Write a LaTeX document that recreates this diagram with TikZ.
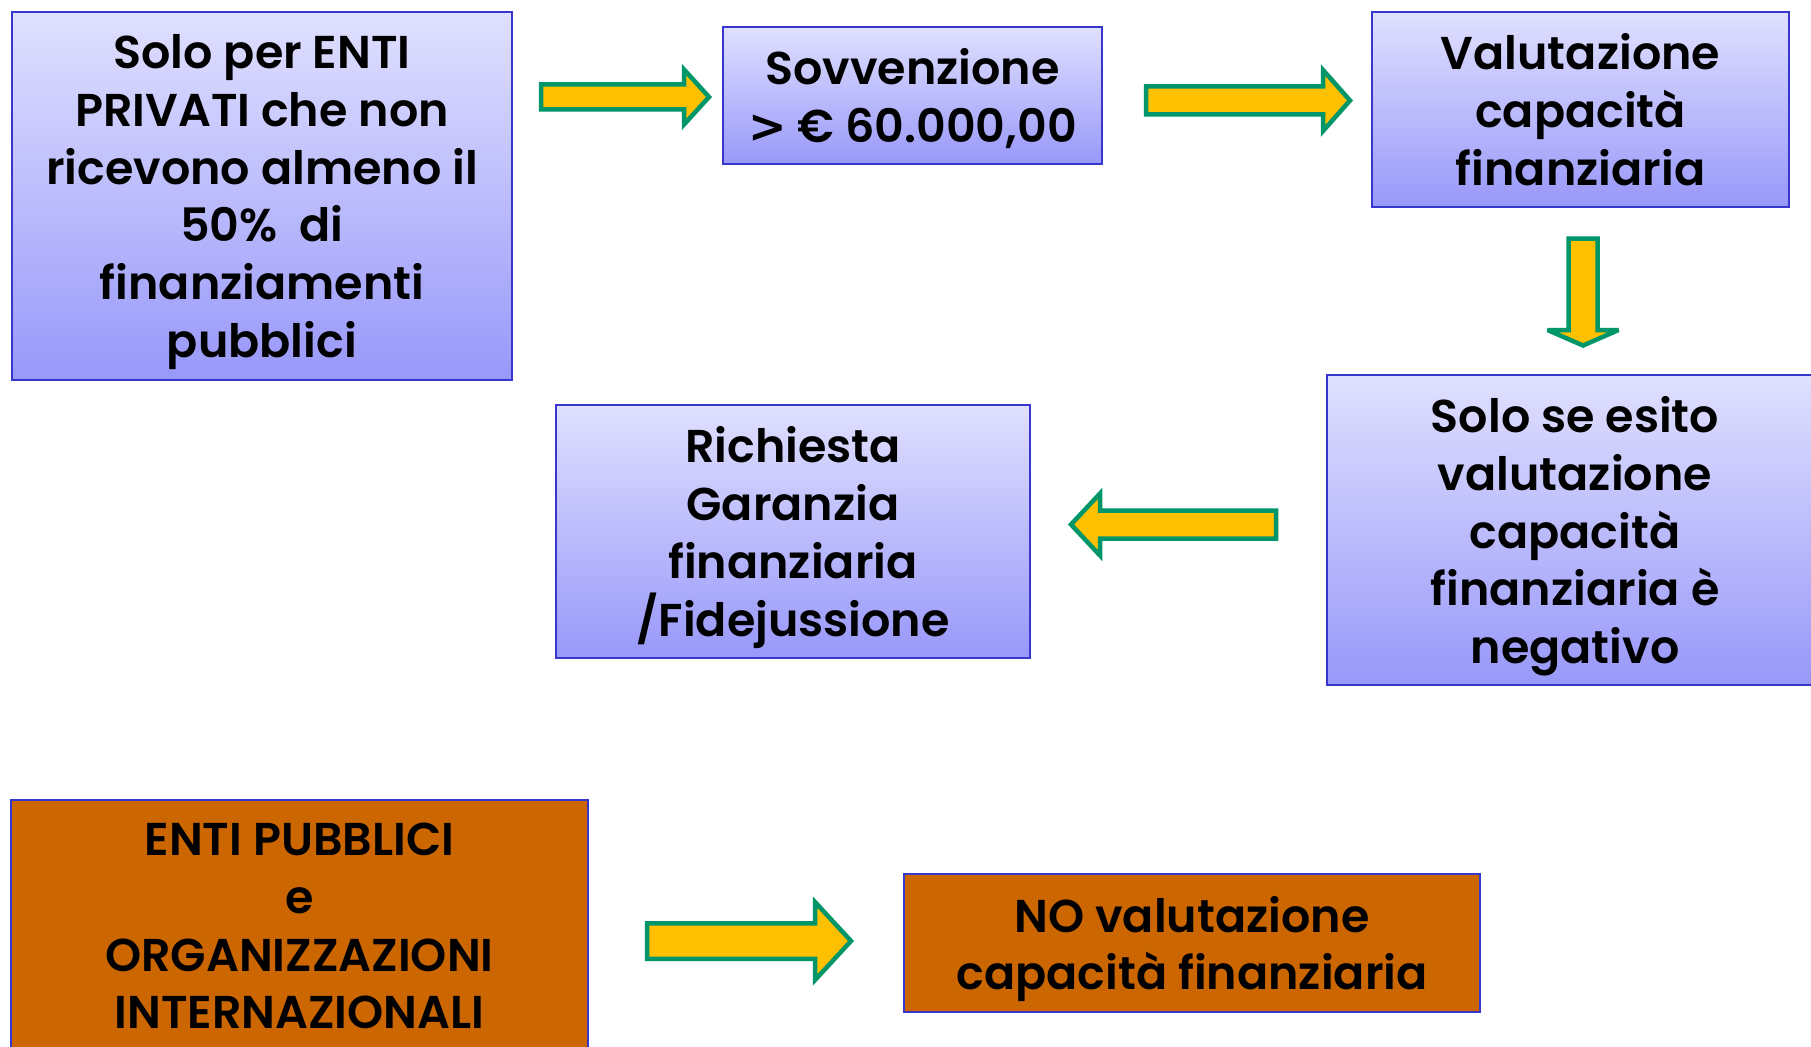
\documentclass[tikz,border=0pt]{standalone}
\usepackage{fontspec}
\setmainfont{Poppins}[BoldFont={Poppins SemiBold}]
\newfontfamily\signfont{DejaVu Sans}

\definecolor{boxtop}{RGB}{224,224,255}
\definecolor{boxbottom}{RGB}{152,152,250}
\definecolor{boxline}{RGB}{55,55,205}
\definecolor{orangefill}{RGB}{204,102,0}
\definecolor{arrowfill}{RGB}{255,192,0}
\definecolor{arrowline}{RGB}{0,150,105}

\tikzset{
    box/.style={draw=boxline, line width=1.5pt, align=center, inner sep=0pt,
        text depth=0pt, font=\fontsize{46}{57.8}\selectfont\bfseries},
    bluebox/.style={box, top color=boxtop, bottom color=boxbottom},
    orangebox/.style={box, fill=orangefill},
    arrowbody/.style={draw=arrowline, fill=arrowfill, line width=4.5pt, miter limit=4},
    % block arrow: length, half shaft, half head, head length
    pics/blockarrow/.style n args={4}{code={
        \draw[arrowbody] (0,-#2) -- (#1-#4,-#2) -- (#1-#4,-#3) -- (#1,0)
            -- (#1-#4,#3) -- (#1-#4,#2) -- (0,#2) -- cycle;
    }}
}

\begin{document}
\begin{tikzpicture}[x=1pt, y=-1pt]
        \clip (0,0) rectangle (1811,1046);
        \fill[white] (0,0) rectangle (1811,1046);

        % upper chain
        \node[bluebox, minimum width=500pt, minimum height=368pt] (privati) at (262,196)
            {Solo per ENTI\\PRIVATI che non\\ricevono almeno il\\50\%\ \ di\\finanziamenti\\pubblici};
        \node[bluebox, minimum width=379pt, minimum height=137pt] (sovvenzione) at (912.5,95.5)
            {Sovvenzione\\{\signfont >} € 60.000,00};
        \node[bluebox, minimum width=417pt, minimum height=195pt] (valutazione) at (1580.5,109.5)
            {Valutazione\\capacità\\finanziaria};
        \node[bluebox, minimum width=496pt, minimum height=310pt] (esito) at (1575,530)
            {Solo se esito\\valutazione\\capacità\\finanziaria è\\negativo};
        \node[bluebox, minimum width=474pt, minimum height=253pt] (garanzia) at (793,531.5)
            {Richiesta\\Garanzia\\finanziaria\\/Fidejussione};

        % lower chain
        \node[orangebox, minimum width=577pt, minimum height=252pt] (pubblici) at (299.5,926)
            {ENTI PUBBLICI\\e\\ORGANIZZAZIONI\\INTERNAZIONALI};
        \node[orangebox, minimum width=576pt, minimum height=138pt] (novalutazione) at (1192,943)
            {NO valutazione\\capacità finanziaria};

        % arrows
        \pic at (541,97) {blockarrow={168}{12.5}{27.5}{25}};
        \pic at (1146,100.5) {blockarrow={204}{14}{30.5}{27}};
        \pic[rotate=-90] at (1583,238.5) {blockarrow={107}{14.5}{35.5}{15.5}};
        \pic[rotate=180] at (1276,524.5) {blockarrow={205}{14}{31}{29}};
        \pic at (647,941) {blockarrow={204}{17.75}{39}{36}};
    \end{tikzpicture}
\end{document}
